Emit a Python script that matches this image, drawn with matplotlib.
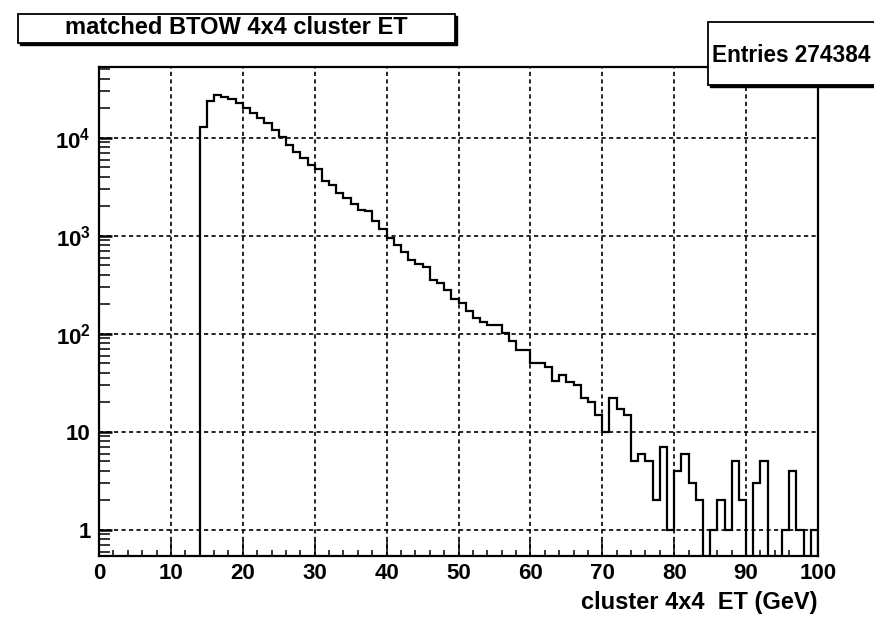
import numpy as np
import matplotlib
matplotlib.use("Agg")
import matplotlib.pyplot as plt
from matplotlib.ticker import MultipleLocator, LogLocator, FixedLocator, FixedFormatter, NullFormatter
from matplotlib.patches import Rectangle

plt.rcParams['font.family'] = ['Liberation Sans', 'DejaVu Sans']
plt.rcParams['font.weight'] = 'bold'
plt.rcParams['mathtext.fontset'] = 'custom'
plt.rcParams['mathtext.rm'] = 'Liberation Sans:bold'
plt.rcParams['mathtext.it'] = 'Liberation Sans:bold'
plt.rcParams['mathtext.bf'] = 'Liberation Sans:bold'

TITLE = "matched BTOW 4x4 cluster ET"
XLABEL = "cluster 4x4  ET (GeV)"
ENTRIES = 274384

# 1 GeV bins from 0 to 100; counts per bin (bins 0-13 are empty)
bin_edges = np.arange(0, 101, 1)
counts = [0] * 14 + [
    13000, 24000, 27500, 26400, 25000, 22900, 20100, 17900, 15900, 14100,  # 14-23
    12070, 10150, 8490, 7250, 6200, 5300, 4790, 3600, 3310, 2730,          # 24-33
    2430, 2140, 1860, 1780, 1430, 1170, 950, 810, 690, 570,                # 34-43
    520, 480, 356, 329, 281, 225, 206, 173, 145, 131,                      # 44-53
    124, 124, 102, 84, 69, 69, 50, 50, 46, 33,                             # 54-63
    38, 32, 30, 22, 20, 15, 10, 22, 17, 15,                                # 64-73
    5, 6, 5, 2, 7, 1, 4, 6, 3, 2,                                          # 74-83
    0, 1, 2, 1, 5, 2, 0, 3, 5, 0,                                          # 84-93
    0, 1, 4, 1, 0, 1,                                                      # 94-99
]

y_ticks = [1, 10, 100, 1000, 10000]
y_ticklabels = ["1", "10", r"$10^{2}$", r"$10^{3}$", r"$10^{4}$"]

fig = plt.figure(figsize=(8.74, 6.17), dpi=100)
ax = fig.add_axes([0.1133, 0.0989, 0.8226, 0.7925])

vals = np.array(counts, dtype=float)
vals = np.where(vals > 0, vals, 1e-3)  # empty bins drop below the axis on log scale
ax.stairs(vals, bin_edges, baseline=1e-3, color="black", linewidth=1.6, zorder=3)

ax.set_yscale("log")
ax.set_xlim(0, 100)
ax.set_ylim(0.543, 53000)

ax.xaxis.set_major_locator(MultipleLocator(10))
ax.xaxis.set_minor_locator(MultipleLocator(2))
ax.yaxis.set_major_locator(FixedLocator(y_ticks))
ax.yaxis.set_major_formatter(FixedFormatter(y_ticklabels))
ax.yaxis.set_minor_locator(LogLocator(base=10, subs=np.arange(2, 10)))
ax.yaxis.set_minor_formatter(NullFormatter())

ax.tick_params(axis="both", which="both", direction="in", top=False, right=False,
               labelsize=16, width=1.1, color="black")
ax.tick_params(axis="x", which="major", length=11.5, pad=5)
ax.tick_params(axis="x", which="minor", length=4)
ax.tick_params(axis="y", which="major", length=9.5, width=1.8, pad=6)
ax.tick_params(axis="y", which="minor", length=8)

ax.grid(True, which="major", color="black", linestyle=(0, (2.5, 2)), linewidth=1.2)
for sp in ax.spines.values():
    sp.set_linewidth(1.6)

ax.set_xlabel(XLABEL, fontsize=17, fontweight="bold", loc="right", labelpad=5)

# title pave
fig.patches.append(Rectangle((20 / 874, 1 - 45 / 617), 437 / 874, 29 / 617,
                             transform=fig.transFigure, facecolor="black", edgecolor="black", zorder=4))
fig.patches.append(Rectangle((18 / 874, 1 - 43 / 617), 437 / 874, 29 / 617,
                             transform=fig.transFigure, facecolor="white", edgecolor="black",
                             linewidth=1.3, zorder=5))
fig.text(236 / 874, 1 - 28 / 617, TITLE, ha="center", va="center", fontsize=17,
         fontweight="bold", zorder=6)

# stats pave
fig.patches.append(Rectangle((710 / 874, 1 - 87 / 617), 200 / 874, 63 / 617,
                             transform=fig.transFigure, facecolor="black", edgecolor="black", zorder=4))
fig.patches.append(Rectangle((708 / 874, 1 - 85 / 617), 200 / 874, 63 / 617,
                             transform=fig.transFigure, facecolor="white", edgecolor="black",
                             linewidth=1.3, zorder=5))
fig.text(712 / 874, 1 - 55 / 617, f"Entries {ENTRIES}", ha="left", va="center", fontsize=16.3,
         fontweight="bold", zorder=6)

fig.savefig("out.png", dpi=100)
